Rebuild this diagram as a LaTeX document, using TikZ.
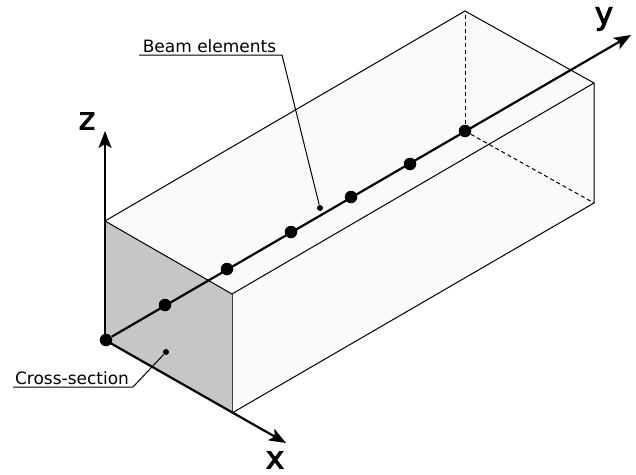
\documentclass[tikz,border=0pt]{standalone}
\usepackage{fontspec}
\usepackage{xcolor}
\setmainfont{DejaVu Sans}
\newfontfamily\axisfont[FakeBold=3]{DejaVu Sans}
\usetikzlibrary{arrows.meta,positioning}
\definecolor{facegray}{rgb}{0.77,0.78,0.77}
\definecolor{sidewhite}{rgb}{0.98,0.98,0.98}

\begin{document}
\begin{tikzpicture}[x=1pt,y=-1pt,line width=1pt,
   beamdot/.style={circle,fill=black,inner sep=0pt,minimum size=12.5pt},
   leaderdot/.style={circle,fill=black,inner sep=0pt,minimum size=6pt},
   axis/.style={line width=2.2pt,-{Stealth[length=17pt,width=13pt,inset=4pt]}},
   edge/.style={line width=1pt},
   leader/.style={line width=1pt},
   axislabel/.style={font=\fontsize{31}{31}\selectfont\axisfont,inner sep=0pt},
   caption/.style={font=\fontsize{17}{18}\selectfont,inner sep=0pt,anchor=base}]
  \useasboundingbox (0,0) rectangle (636,474);
  % corners of the box
  \coordinate (top1) at (105,221);
  \coordinate (top2) at (232,294);
  \coordinate (bot2) at (232,413);
  \coordinate (top3) at (594,83);
  \coordinate (bot3) at (594,203);
  \coordinate (top4) at (465,11);
  \coordinate (ztip) at (105,131);
  \coordinate (xtip) at (286,443);
  \coordinate (ytip) at (631,35);
  \coordinate (org) at (105,340);
  \fill[sidewhite] (top1) -- (top4) -- (top3) -- (bot3) -- (bot2) -- (top2) -- cycle;
  \fill[facegray] (org) -- (top1) -- (top2) -- (bot2) -- cycle;
  \draw[edge] (top1) -- (top4) -- (top3) -- (bot3) -- (bot2);
  \draw[edge] (top1) -- (top2) -- (top3);
  \draw[edge,draw=black!75] (top2) -- (bot2);
  % beam nodes
  \node[beamdot] (n1) at (106,340) {};
  \node[beamdot] (n2) at (165,305) {};
  \node[beamdot] (n3) at (227,269) {};
  \node[beamdot] (n4) at (291,232) {};
  \node[beamdot] (n5) at (351,197) {};
  \node[beamdot] (n6) at (410,164) {};
  \node[beamdot] (n7) at (465,131) {};
  \draw[edge,dash pattern=on 4pt off 3pt] (n7) -- (top4);
  \draw[edge,dash pattern=on 4pt off 3pt] (n7) -- (bot3);
  \draw[axis] (org) -- (ztip);
  \draw[axis] (org) -- (xtip);
  \draw[axis] (n1) -- (ytip);
  % axis names
  \node[axislabel] (zlab) at (87,121) {z};
  \node[axislabel] (xlab) at (275,460) {x};
  \node[axislabel] (ylab) at (604,19) {y};
  % callouts
  \node[caption] (beam) at (209.5,52.5) {Beam elements};
  \node[leaderdot] (beamend) at (320,208) {};
  \coordinate (beamkink) at (282,55);
  \coordinate (beamstart) at (139,55);
  \draw[leader] (beamstart) -- (beamkink) -- (beamend);
  \node[caption] (cross) at (72,384.5) {Cross-section};
  \node[leaderdot] (crossend) at (166,352) {};
  \coordinate (crosskink) at (133,387);
  \coordinate (crossstart) at (13,387);
  \draw[leader] (crossstart) -- (crosskink) -- (crossend);
\end{tikzpicture}
\end{document}
